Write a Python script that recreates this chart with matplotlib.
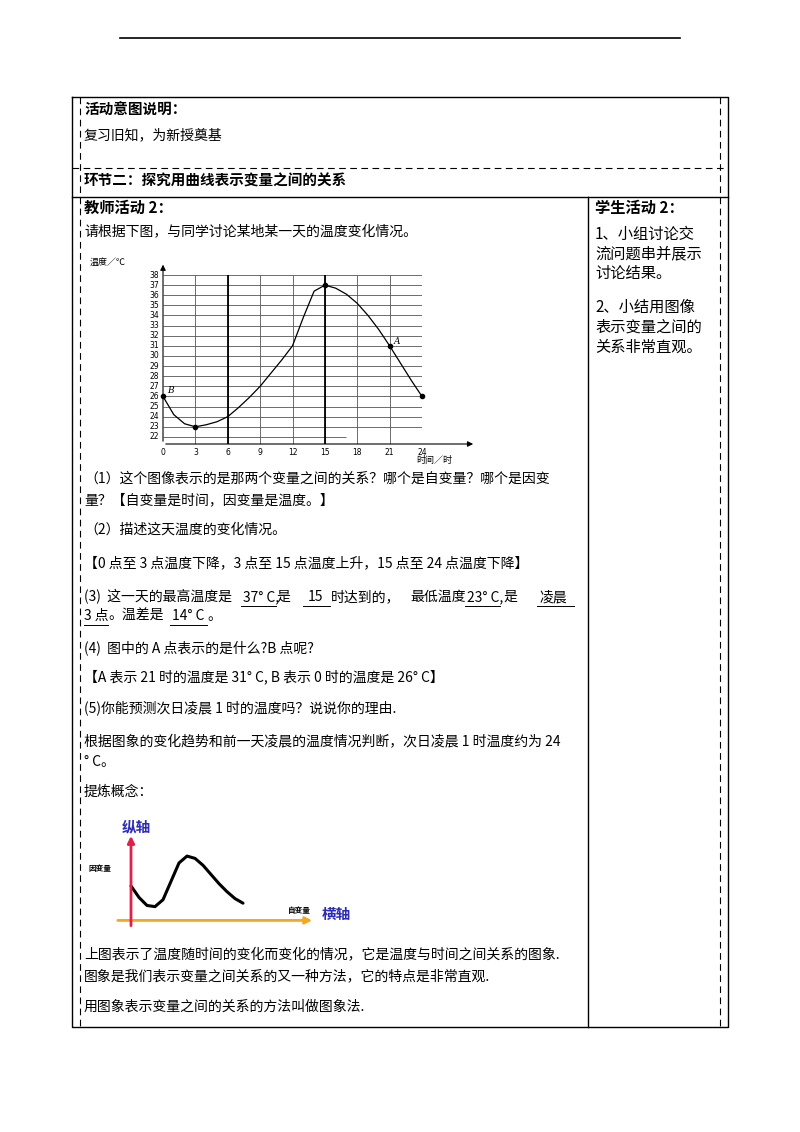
import numpy as np
import matplotlib.pyplot as plt

plt.rcParams['font.family'] = ['Noto Sans CJK SC', 'DejaVu Sans']

# temperature over one day
hours = [0, 1, 2, 3, 4, 5, 6, 7, 8, 9, 10, 11, 12, 13, 14, 15, 16, 17, 18, 19, 20, 21, 22, 23, 24]
temps = [26, 24.2, 23.3, 23, 23.2, 23.5, 24, 24.9, 25.9, 27, 28.3, 29.6, 31, 33.8, 36.4, 37, 36.7, 36.1, 35.2, 34, 32.6, 31, 29.3, 27.6, 26]
marked_h = [0, 3, 15, 21, 24]
marked_t = [26, 23, 37, 31, 26]
x_ticks = [0, 3, 6, 9, 12, 15, 18, 21, 24]
y_ticks = list(range(22, 39))

# sketch curve for the concept figure
sk_x = [0, 0.5, 1, 1.5, 2, 2.5, 3, 3.5, 4, 4.5, 5, 5.5, 6, 6.5, 7]
sk_y = [3.0, 2.0, 1.3, 1.2, 1.8, 3.4, 5.0, 5.6, 5.4, 4.8, 4.0, 3.2, 2.5, 1.9, 1.5]

fig = plt.figure(figsize=(8, 11.32), dpi=100)
page = fig.add_axes([0, 0, 1, 1])
page.set_xlim(0, 800)
page.set_ylim(1132, 0)
page.axis('off')

# header rule
page.plot([120, 680], [38, 38], color='black', lw=1.2)

# table frame
k = dict(color='black', lw=1.0)
d = dict(color='black', lw=0.8, ls=(0, (6, 4)))
page.plot([72, 728, 728, 72, 72], [97, 97, 1027, 1027, 97], **k)
page.plot([80, 80], [97, 1027], **d)
page.plot([720, 720], [97, 1027], **d)
page.plot([72, 728], [168, 168], **d)
page.plot([72, 728], [197, 197], **k)
page.plot([588, 588], [197, 1027], **k)

fs = 10
page.text(84, 110, '活动意图说明：', fontsize=fs + 0.5, weight='bold', va='center')
page.text(84, 135, '复习旧知，为新授奠基', fontsize=fs, va='center')
page.text(84, 181, '环节二：探究用曲线表示变量之间的关系', fontsize=fs + 0.5, weight='bold', va='center')
page.text(84, 208, '教师活动 2：', fontsize=fs + 1, weight='bold', va='center')
page.text(595, 208, '学生活动 2：', fontsize=fs + 1, weight='bold', va='center')
page.text(84, 232, '请根据下图，与同学讨论某地某一天的温度变化情况。', fontsize=fs, va='center')

stud = ['1、小组讨论交', '流问题串并展示', '讨论结果。', '', '2、小结用图像', '表示变量之间的', '关系非常直观。']
ys = [234, 254, 273, 0, 307, 327, 347]
for s, y in zip(stud, ys):
    if s:
        page.text(595, y, s, fontsize=11, va='center')

body = [
    (479, '（1）这个图像表示的是那两个变量之间的关系？哪个是自变量？哪个是因变'),
    (500, '量？【自变量是时间，因变量是温度。】'),
    (530, '（2）描述这天温度的变化情况。'),
    (563, '【0 点至 3 点温度下降，3 点至 15 点温度上升，15 点至 24 点温度下降】'),
    (648, '(4)  图中的 A 点表示的是什么?B 点呢?'),
    (677, '【A 表示 21 时的温度是 31° C, B 表示 0 时的温度是 26° C】'),
    (708, '(5)你能预测次日凌晨 1 时的温度吗？说说你的理由.'),
    (742, '根据图象的变化趋势和前一天凌晨的温度情况判断，次日凌晨 1 时温度约为 24'),
    (762, '° C。'),
    (792, '提炼概念：'),
    (955, '上图表示了温度随时间的变化而变化的情况，它是温度与时间之间关系的图象.'),
    (976, '图象是我们表示变量之间关系的又一种方法，它的特点是非常直观.'),
    (1007, '用图象表示变量之间的关系的方法叫做图象法.'),
]
for y, s in body:
    page.text(84, y, s, fontsize=fs, va='center')

# item (3), placed in pieces with underlines
pieces = [(84, 597, '(3)  这一天的最高温度是'), (243, 597, '37° C,'), (276, 597, '是'),
          (308, 597, '15'), (331, 597, '时达到的，'), (410, 597, '最低温度'),
          (467, 597, '23° C,'), (503, 597, '是'), (540, 597, '凌晨'),
          (84, 616, '3 点'), (108, 616, '。温差是'), (172, 616, '14° C'), (207, 616, '。')]
for x, y, s in pieces:
    page.text(x, y, s, fontsize=fs, va='center')
for x0, x1, y in [(241, 276, 606), (303, 330, 606), (465, 500, 606), (537, 574, 606), (84, 108, 625), (170, 207, 625)]:
    page.plot([x0, x1], [y, y], color='black', lw=0.7)

# temperature chart
x0p, x1p = 163, 422
ytop, ybot = 275, 444
ax = fig.add_axes([x0p / 800, 1 - ybot / 1132, (x1p - x0p) / 800, (ybot - ytop) / 1132])
ax.set_xlim(0, 24)
ax.set_ylim(21.3, 38)
ax.axis('off')
ax.hlines([t for t in y_ticks if t > 22], 0, 24, color='#555555', lw=0.6)
ax.hlines(22, 0, 17, color='#555555', lw=0.6)
ax.vlines([h for h in x_ticks if h > 0], 21.3, 38, color='#555555', lw=0.6)
ax.vlines([6, 15], 21.3, 38, color='black', lw=1.3)
ax.annotate('', xy=(29, 21.3), xytext=(0, 21.3), annotation_clip=False,
            arrowprops=dict(arrowstyle='-|>', color='black', lw=0.8, mutation_scale=8))
ax.annotate('', xy=(0, 39.3), xytext=(0, 21.3), annotation_clip=False,
            arrowprops=dict(arrowstyle='-|>', color='black', lw=0.8, mutation_scale=8))
ax.plot(hours, temps, color='black', lw=0.9)
ax.plot(marked_h, marked_t, 'o', color='black', ms=3, clip_on=False)
for t in y_ticks:
    ax.text(-0.4, t, str(t), fontsize=5.5, ha='right', va='center', family='DejaVu Sans')
for h in x_ticks:
    ax.text(h, 20.9, str(h), fontsize=5.5, ha='center', va='top', family='DejaVu Sans')
ax.text(21.4, 31.2, 'A', fontsize=6.5, style='italic', family='DejaVu Serif')
ax.text(0.4, 26.3, 'B', fontsize=6.5, style='italic', family='DejaVu Serif')
ax.text(-6.8, 39.2, '温度／℃', fontsize=6.5, va='center')
ax.text(23.5, 19.7, '时间／时', fontsize=6.5, va='center', ha='left')

# concept sketch
sx = fig.add_axes([115 / 800, 1 - 925 / 1132, 200 / 800, 85 / 1132])
sx.set_xlim(-1, 11.5)
sx.set_ylim(-0.4, 7)
sx.axis('off')
sx.annotate('', xy=(11.5, 0), xytext=(-1, 0), annotation_clip=False,
            arrowprops=dict(arrowstyle='-|>', color='#f5a623', lw=2, mutation_scale=10))
sx.annotate('', xy=(0, 7.6), xytext=(0, -0.7), annotation_clip=False,
            arrowprops=dict(arrowstyle='-|>', color='#e0204a', lw=2, mutation_scale=10))
sx.plot(sk_x, sk_y, color='black', lw=2.2, solid_capstyle='round', solid_joinstyle='round')
page.text(122, 826, '纵轴', fontsize=10.5, weight='bold', color='#2b2bb8', va='center')
page.text(322, 914, '横轴', fontsize=10.5, weight='bold', color='#2b2bb8', va='center')
page.text(88, 868, '因变量', fontsize=5.5, weight='bold', va='center')
page.text(288, 911, '自变量', fontsize=5.5, weight='bold', va='center')

fig.savefig('out.png', dpi=100)
